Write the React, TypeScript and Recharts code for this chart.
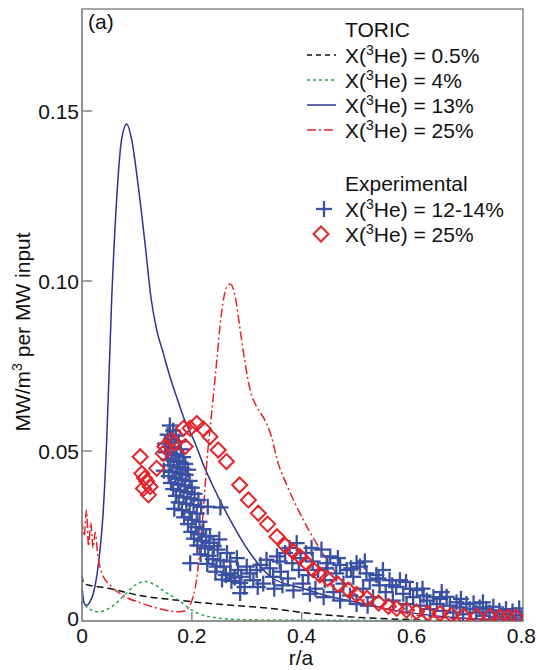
import React from "react";
import { ComposedChart, Line, Scatter, XAxis, YAxis, ReferenceArea } from "recharts";

const FONT = '"Liberation Sans", Arial, Helvetica, sans-serif';

const xTicks = [0, 0.2, 0.4, 0.6, 0.8];
const yTicks = [0, 0.05, 0.1, 0.15];
const yTickLabels = ["0", "0.05", "0.10", "0.15"];

// TORIC curves, [r/a, MW/m3 per MW]
const toric05: [number, number][] = [
  [0, 0.0135], [0.003, 0.011], [0.048, 0.0096], [0.109, 0.0074], [0.169, 0.0062], [0.23, 0.0052],
  [0.3, 0.0043], [0.35, 0.0036], [0.4, 0.0025], [0.5, 0.0011], [0.6, 0.0004], [0.7, 0.0001], [0.8, 0],
];

const toric4: [number, number][] = [
  [0, 0.0062], [0.0115, 0.0037], [0.03, 0.0027], [0.054, 0.0042], [0.078, 0.0077], [0.097, 0.0106],
  [0.115, 0.0116], [0.133, 0.0106], [0.151, 0.0086], [0.175, 0.0062], [0.2, 0.0032], [0.23, 0.0013],
  [0.291, 0.0004], [0.35, 0.0003], [0.5, 0.0002], [0.6, 0.0001], [0.8, 0],
];

const toric13: [number, number][] = [
  [0, 0.01], [0.004, 0.0052], [0.0085, 0.0046], [0.0146, 0.0057], [0.0206, 0.0081], [0.0267, 0.013],
  [0.0328, 0.0209], [0.0388, 0.0326], [0.045, 0.0532], [0.054, 0.0944], [0.063, 0.1238], [0.072, 0.1415],
  [0.0814, 0.1462], [0.0905, 0.1415], [0.1026, 0.1277], [0.1148, 0.111], [0.1257, 0.095], [0.136, 0.0856],
  [0.148, 0.0788], [0.16, 0.0719], [0.172, 0.066], [0.1846, 0.0601], [0.206, 0.0523], [0.221, 0.046],
  [0.239, 0.0395], [0.27, 0.0297], [0.306, 0.02], [0.348, 0.0125], [0.4, 0.0097], [0.446, 0.0074],
  [0.506, 0.0053], [0.567, 0.0032], [0.628, 0.0018], [0.689, 0.0009], [0.75, 0.0005], [0.8, 0.0003],
];

const toric25: [number, number][] = [
  [0, 0.0297], [0.004, 0.025], [0.008, 0.0326], [0.012, 0.022], [0.016, 0.029], [0.02, 0.0215],
  [0.024, 0.026], [0.029, 0.019], [0.036, 0.0141], [0.054, 0.0101], [0.078, 0.0072], [0.109, 0.0052],
  [0.139, 0.0037], [0.175, 0.0027], [0.188, 0.003], [0.196, 0.0045], [0.203, 0.0075], [0.209, 0.0125],
  [0.215, 0.0219], [0.221, 0.0326], [0.228, 0.048], [0.236, 0.061], [0.245, 0.0759], [0.254, 0.0906],
  [0.263, 0.098], [0.27, 0.0991], [0.279, 0.0954], [0.288, 0.0856], [0.297, 0.0759], [0.306, 0.068],
  [0.318, 0.063], [0.333, 0.0591], [0.345, 0.0542], [0.357, 0.0465], [0.373, 0.04], [0.403, 0.0297],
  [0.446, 0.018], [0.482, 0.0101], [0.524, 0.0053], [0.585, 0.0024], [0.664, 0.0009], [0.75, 0.0004],
  [0.8, 0.0002],
];

// experimental, X(3He) = 12-14%
const exp13: [number, number][] = [
  [0.16, 0.0575], [0.166, 0.056], [0.156, 0.0548], [0.171, 0.0545], [0.162, 0.0535], [0.151, 0.0522],
  [0.176, 0.0528], [0.158, 0.0512], [0.168, 0.0508], [0.18, 0.0505], [0.153, 0.0496], [0.163, 0.0492],
  [0.172, 0.0488], [0.184, 0.0482], [0.157, 0.0475], [0.167, 0.0472], [0.177, 0.0468], [0.188, 0.0462],
  [0.161, 0.0458], [0.173, 0.0452], [0.183, 0.0448], [0.193, 0.0445], [0.149, 0.0442], [0.165, 0.0438],
  [0.178, 0.0434], [0.189, 0.043], [0.158, 0.0426], [0.17, 0.0421], [0.182, 0.0416], [0.196, 0.0412],
  [0.162, 0.0406], [0.175, 0.0402], [0.187, 0.0398], [0.2, 0.0392], [0.166, 0.0388], [0.179, 0.0384],
  [0.192, 0.0379], [0.205, 0.0374], [0.171, 0.0368], [0.185, 0.0364], [0.198, 0.036], [0.212, 0.0356],
  [0.176, 0.0349], [0.19, 0.0345], [0.203, 0.0341], [0.217, 0.0336], [0.168, 0.033], [0.182, 0.0326],
  [0.196, 0.032], [0.209, 0.0316], [0.229, 0.0336], [0.252, 0.0334], [0.186, 0.0305], [0.2, 0.0298],
  [0.214, 0.0292], [0.193, 0.0285], [0.207, 0.0276], [0.221, 0.027], [0.199, 0.0262], [0.212, 0.0255],
  [0.226, 0.0248], [0.204, 0.0242], [0.218, 0.0236], [0.232, 0.023], [0.24, 0.022], [0.21, 0.0222],
  [0.224, 0.0214], [0.247, 0.021], [0.264, 0.02], [0.197, 0.017], [0.216, 0.0196], [0.23, 0.0192],
  [0.238, 0.0182], [0.252, 0.0178], [0.228, 0.0168], [0.245, 0.016], [0.258, 0.016], [0.27, 0.014],
  [0.243, 0.0145], [0.262, 0.0135], [0.278, 0.0128], [0.288, 0.0112], [0.255, 0.0122], [0.272, 0.0118],
  [0.288, 0.0082], [0.296, 0.01], [0.306, 0.014], [0.318, 0.015], [0.336, 0.018], [0.348, 0.013],
  [0.325, 0.0165], [0.3, 0.016], [0.284, 0.015], [0.312, 0.012], [0.33, 0.011], [0.342, 0.0155],
  [0.355, 0.019], [0.362, 0.0145], [0.37, 0.02], [0.375, 0.0125], [0.383, 0.017], [0.391, 0.0229],
  [0.395, 0.015], [0.402, 0.011], [0.408, 0.02], [0.412, 0.0135], [0.42, 0.0175], [0.425, 0.0095],
  [0.43, 0.015], [0.436, 0.021], [0.442, 0.012], [0.447, 0.017], [0.452, 0.019], [0.458, 0.0085],
  [0.463, 0.014], [0.47, 0.0165], [0.476, 0.011], [0.482, 0.015], [0.488, 0.0075], [0.494, 0.013],
  [0.5, 0.017], [0.506, 0.016], [0.512, 0.0095], [0.518, 0.014], [0.524, 0.012], [0.53, 0.007],
  [0.536, 0.0135], [0.542, 0.0105], [0.548, 0.015], [0.553, 0.0085], [0.56, 0.012], [0.566, 0.006],
  [0.572, 0.01], [0.579, 0.012], [0.585, 0.008], [0.591, 0.005], [0.597, 0.0095], [0.603, 0.007],
  [0.61, 0.0091], [0.616, 0.0045], [0.622, 0.0075], [0.628, 0.006], [0.634, 0.0035], [0.64, 0.007],
  [0.646, 0.005], [0.652, 0.0065], [0.658, 0.003], [0.664, 0.0071], [0.67, 0.0045], [0.676, 0.0025],
  [0.682, 0.0055], [0.688, 0.004], [0.694, 0.002], [0.7, 0.005], [0.706, 0.0035], [0.713, 0.0052],
  [0.718, 0.0025], [0.724, 0.004], [0.73, 0.0015], [0.736, 0.0035], [0.742, 0.0025], [0.749, 0.0042],
  [0.754, 0.0012], [0.76, 0.003], [0.766, 0.002], [0.772, 0.0035], [0.778, 0.001], [0.784, 0.0028],
  [0.79, 0.0018], [0.796, 0.0037], [0.8, 0.001], [0.32, 0.01], [0.35, 0.0095], [0.365, 0.0105],
  [0.385, 0.009], [0.415, 0.008], [0.44, 0.007], [0.47, 0.006], [0.5, 0.005], [0.52, 0.0045],
  [0.36, 0.0175], [0.378, 0.0215], [0.398, 0.0185], [0.418, 0.0215], [0.445, 0.0155], [0.466, 0.0185],
  [0.49, 0.0155], [0.515, 0.0175], [0.54, 0.0125], [0.565, 0.0105], [0.59, 0.0115], [0.62, 0.0095],
  [0.655, 0.0085], [0.69, 0.0065], [0.73, 0.0055], [0.27, 0.0175], [0.282, 0.0185], [0.29, 0.013],
  [0.233, 0.025], [0.25, 0.024],
];

// experimental, X(3He) = 25%
const exp25: [number, number][] = [
  [0.106, 0.0483], [0.109, 0.0434], [0.112, 0.039], [0.114, 0.042], [0.118, 0.041], [0.121, 0.0371],
  [0.124, 0.0395], [0.136, 0.0449], [0.148, 0.0493], [0.151, 0.0513], [0.163, 0.0532], [0.169, 0.0523],
  [0.185, 0.0567], [0.188, 0.0513], [0.197, 0.0567], [0.209, 0.0581], [0.221, 0.0565], [0.233, 0.0542],
  [0.248, 0.0503], [0.263, 0.0469], [0.287, 0.04], [0.303, 0.0356], [0.321, 0.0317], [0.338, 0.0285],
  [0.355, 0.0248], [0.37, 0.0222], [0.384, 0.0205], [0.397, 0.0189], [0.409, 0.017], [0.421, 0.0151],
  [0.433, 0.0136], [0.447, 0.0125], [0.466, 0.0108], [0.485, 0.0091], [0.5, 0.0078], [0.519, 0.0067],
  [0.54, 0.0053], [0.558, 0.0043], [0.573, 0.0037], [0.591, 0.0032], [0.609, 0.0027], [0.63, 0.0023],
  [0.652, 0.0022], [0.673, 0.0018], [0.695, 0.0014], [0.719, 0.0013], [0.743, 0.0013], [0.761, 0.0011],
  [0.776, 0.0011], [0.79, 0.0011],
];

const pts = (a: [number, number][]) => a.map(([r, v]) => ({ r, v }));

const FRAME = "#8a8a8a";
const BLUE_LINE = "#2c3590";
const BLUE_PTS = "#3a51a3";
const RED = "#e5232b";
const GREEN = "#22a84a";

function YTick(props: any) {
  const { x, y, payload } = props;
  const ax = x + 3;
  const i = yTicks.indexOf(payload.value);
  const zero = payload.value === 0;
  return (
    <g>
      {!zero && <line x1={ax} x2={ax + 10} y1={y} y2={y} stroke={FRAME} strokeWidth={1.5} />}
      <text x={x} y={y + 7.5 - (zero ? 3 : 0)} textAnchor="end" fontSize={21} fontFamily={FONT} fill="#111">
        {yTickLabels[i]}
      </text>
    </g>
  );
}

function XTick(props: any) {
  const { x, y, payload } = props;
  const v = payload.value;
  const edge = v === 0 || v === 0.8;
  return (
    <g>
      {!edge && <line x1={x} x2={x} y1={y} y2={y - 9} stroke={FRAME} strokeWidth={1.5} />}
      <text x={x} y={y + 22} textAnchor="middle" fontSize={21} fontFamily={FONT} fill="#111">
        {v === 0 ? "0" : v.toFixed(1)}
      </text>
    </g>
  );
}

const CrossShape = (p: any) => (
  <g stroke={BLUE_PTS} strokeWidth={2.3}>
    <line x1={p.cx - 8} x2={p.cx + 8} y1={p.cy} y2={p.cy} />
    <line x1={p.cx} x2={p.cx} y1={p.cy - 8} y2={p.cy + 8} />
  </g>
);

const DiamondShape = (p: any) => (
  <path
    d={`M${p.cx},${p.cy - 7.5} L${p.cx + 7.5},${p.cy} L${p.cx},${p.cy + 7.5} L${p.cx - 7.5},${p.cy} Z`}
    fill="none"
    stroke={RED}
    strokeWidth={2}
  />
);

function He({ x, y, text }: { x: number; y: number; text: string }) {
  return (
    <text x={x} y={y + 7.5} fontSize={21} fontFamily={FONT} fill="#111">
      X(<tspan fontSize={14} dy={-8}>3</tspan>
      <tspan dy={8}>He) = {text}</tspan>
    </text>
  );
}

function Overlay() {
  const rows = [55, 80, 105, 130];
  const lx1 = 307;
  const lx2 = 336;
  return (
    <svg width={538} height={670} style={{ position: "absolute", left: 0, top: 0, pointerEvents: "none" }}>
      <text x={88} y={29} fontSize={21} fontFamily={FONT} fill="#111">(a)</text>
      <text x={345} y={29 + 7.5} fontSize={21} fontFamily={FONT} fill="#111">TORIC</text>
      <line x1={lx1} x2={lx2} y1={rows[0]} y2={rows[0]} stroke="#111" strokeWidth={1.5} strokeDasharray="5 4" />
      <He x={345} y={rows[0]} text="0.5%" />
      <line x1={lx1} x2={lx2} y1={rows[1]} y2={rows[1]} stroke={GREEN} strokeWidth={1.5} strokeDasharray="3 3" />
      <He x={345} y={rows[1]} text="4%" />
      <line x1={lx1} x2={lx2} y1={rows[2]} y2={rows[2]} stroke={BLUE_LINE} strokeWidth={1.5} />
      <He x={345} y={rows[2]} text="13%" />
      <line x1={lx1} x2={lx2} y1={rows[3]} y2={rows[3]} stroke={RED} strokeWidth={1.5} strokeDasharray="9 3 2 3" />
      <He x={345} y={rows[3]} text="25%" />
      <text x={345} y={183 + 7.5} fontSize={21} fontFamily={FONT} fill="#111">Experimental</text>
      <CrossShape cx={324} cy={209} />
      <He x={345} y={209} text="12-14%" />
      <DiamondShape cx={321} cy={234} />
      <He x={345} y={234} text="25%" />
      <text x={301} y={665} textAnchor="middle" fontSize={21} fontFamily={FONT} fill="#111">r/a</text>
      <text transform="rotate(-90 22 332)" x={22} y={332 + 7.5} textAnchor="middle" fontSize={21} fontFamily={FONT} fill="#111">
        MW/m<tspan fontSize={14} dy={-8}>3</tspan>
        <tspan dy={8}> per MW input</tspan>
      </text>
    </svg>
  );
}

export default function App() {
  return (
    <div style={{ position: "absolute", left: 0, top: 0, width: 538, height: 670, background: "#fff" }}>
      <ComposedChart width={538} height={670} margin={{ top: 9, right: 15, left: 0, bottom: 0 }}>
        <XAxis
          dataKey="r"
          type="number"
          domain={[0, 0.803]}
          allowDataOverflow
          ticks={xTicks}
          tick={<XTick />}
          tickLine={false}
          tickSize={0}
          tickMargin={0}
          height={49}
          axisLine={{ stroke: FRAME, strokeWidth: 1.5 }}
        />
        <YAxis
          type="number"
          domain={[0, 0.18]}
          allowDataOverflow
          ticks={yTicks}
          tick={<YTick />}
          tickLine={false}
          tickSize={0}
          tickMargin={3}
          width={82}
          axisLine={{ stroke: FRAME, strokeWidth: 1.5 }}
        />
        <ReferenceArea x1={0} x2={0.803} y1={0} y2={0.18} fill="none" stroke={FRAME} strokeWidth={1.5} />
        <Scatter data={pts(exp13)} dataKey="v" shape={CrossShape} isAnimationActive={false} />
        <Scatter data={pts(exp25)} dataKey="v" shape={DiamondShape} isAnimationActive={false} />
        <Line data={pts(toric05)} dataKey="v" type="monotone" stroke="#111" strokeWidth={1.5} strokeDasharray="7 4" dot={false} activeDot={false} isAnimationActive={false} />
        <Line data={pts(toric4)} dataKey="v" type="monotone" stroke={GREEN} strokeWidth={1.5} strokeDasharray="3 3" dot={false} activeDot={false} isAnimationActive={false} />
        <Line data={pts(toric13)} dataKey="v" type="monotone" stroke={BLUE_LINE} strokeWidth={1.5} dot={false} activeDot={false} isAnimationActive={false} />
        <Line data={pts(toric25)} dataKey="v" type="monotone" stroke={RED} strokeWidth={1.5} strokeDasharray="9 3 2 3" dot={false} activeDot={false} isAnimationActive={false} />
      </ComposedChart>
      <Overlay />
    </div>
  );
}
